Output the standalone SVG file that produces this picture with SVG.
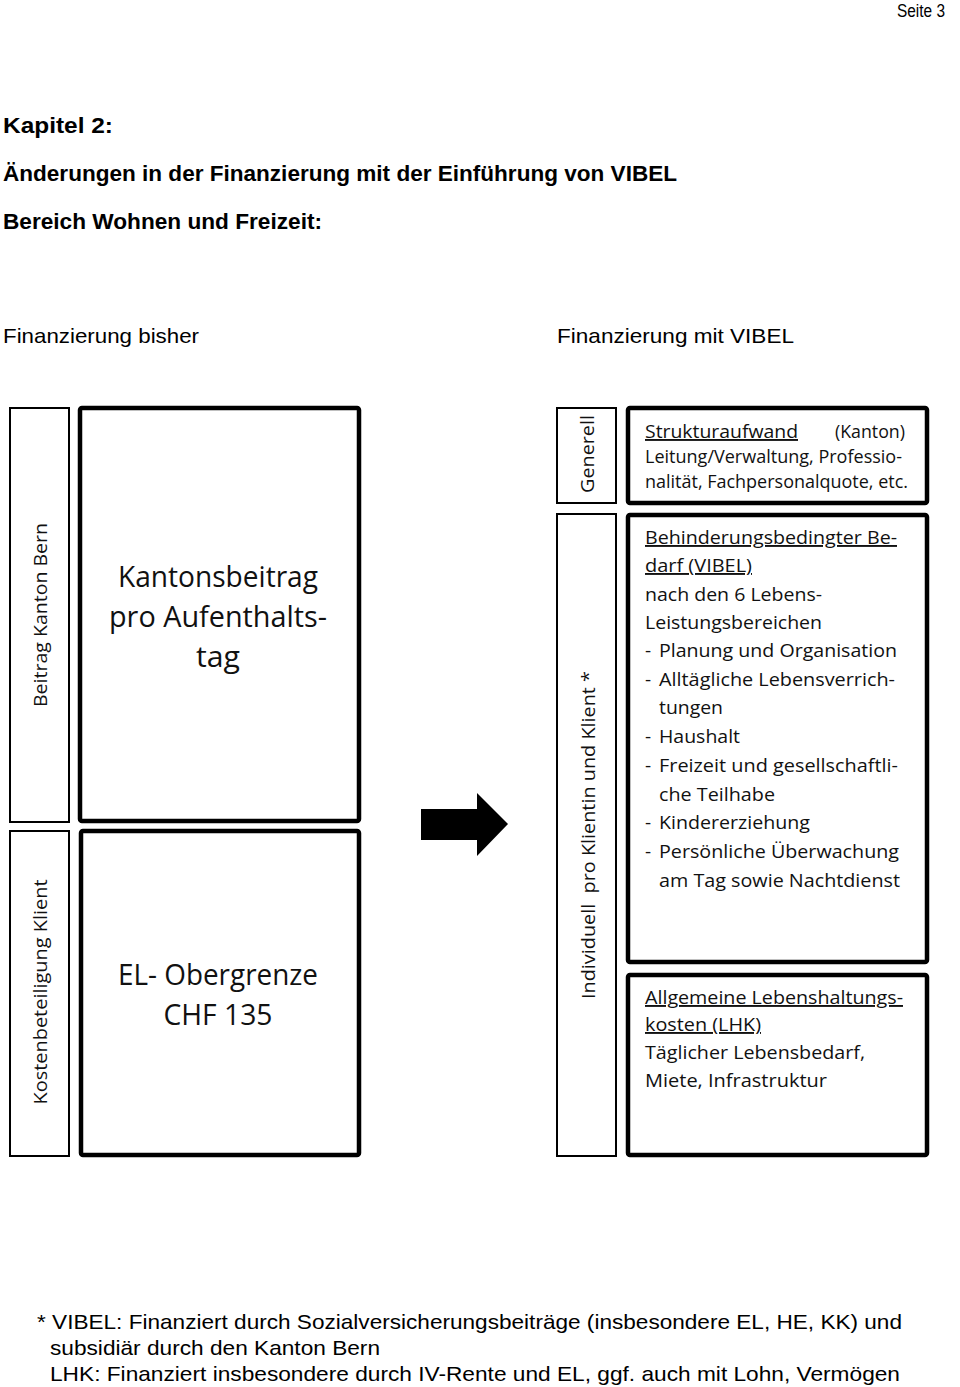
<svg xmlns="http://www.w3.org/2000/svg" width="960" height="1387" viewBox="0 0 960 1387">
<style>
.h{font-family:"Liberation Sans",Arial,sans-serif;fill:#000}
.hb{font-family:"Liberation Sans",Arial,sans-serif;font-weight:bold;font-size:22px;fill:#000}
.c{font-family:"Open Sans","Noto Sans",sans-serif;fill:#111}
.big{font-size:29px;text-anchor:middle}
.v{font-size:19px;text-anchor:middle}
.b{font-size:19px}
.u{text-decoration:underline}
.thin{fill:#fff;stroke:#000;stroke-width:2}
.thick{fill:#fff;stroke:#000;stroke-width:4.5}
</style>
<rect width="960" height="1387" fill="#fff"/>
<g id="header">
<text class="h" x="945" y="17" font-size="18" text-anchor="end" textLength="48" lengthAdjust="spacingAndGlyphs">Seite 3</text>
<text class="hb" x="3" y="133" textLength="110" lengthAdjust="spacingAndGlyphs">Kapitel 2:</text>
<text class="hb" x="3" y="181" textLength="674" lengthAdjust="spacingAndGlyphs">Änderungen in der Finanzierung mit der Einführung von VIBEL</text>
<text class="hb" x="3" y="229" textLength="319" lengthAdjust="spacingAndGlyphs">Bereich Wohnen und Freizeit:</text>
<text class="h" x="3" y="343" font-size="21" textLength="196" lengthAdjust="spacingAndGlyphs">Finanzierung bisher</text>
<text class="h" x="557" y="343" font-size="21" textLength="237" lengthAdjust="spacingAndGlyphs">Finanzierung mit VIBEL</text>
</g>
<g id="beitrag-kanton">
<rect class="thin" x="10" y="408" width="59" height="414"/>
<text class="c v" transform="translate(47,615) rotate(-90)" textLength="184" lengthAdjust="spacingAndGlyphs">Beitrag Kanton Bern</text>
</g>
<g id="kantonsbeitrag">
<rect class="thick" x="80" y="408" width="279" height="413" rx="2"/>
<text class="c big" x="218" y="587" textLength="200" lengthAdjust="spacingAndGlyphs">Kantonsbeitrag</text>
<text class="c big" x="218" y="627" textLength="218" lengthAdjust="spacingAndGlyphs">pro Aufenthalts-</text>
<text class="c big" x="218" y="667" textLength="44" lengthAdjust="spacingAndGlyphs">tag</text>
</g>
<g id="kostenbeteiligung">
<rect class="thin" x="10" y="831" width="59" height="325"/>
<text class="c v" transform="translate(47,992) rotate(-90)" textLength="225" lengthAdjust="spacingAndGlyphs">Kostenbeteiligung Klient</text>
</g>
<g id="el-obergrenze">
<rect class="thick" x="81" y="831" width="278" height="324" rx="2"/>
<text class="c big" x="218" y="985" textLength="200" lengthAdjust="spacingAndGlyphs">EL- Obergrenze</text>
<text class="c big" x="218" y="1025" textLength="109" lengthAdjust="spacingAndGlyphs">CHF 135</text>
</g>
<g id="connectors">
<polygon points="421,809 477,809 477,793 508,824 477,856 477,840 421,840" fill="#000"/>
</g>
<g id="generell">
<rect class="thin" x="557" y="408" width="59" height="95"/>
<text class="c v" transform="translate(594,454) rotate(-90)" textLength="78" lengthAdjust="spacingAndGlyphs">Generell</text>
</g>
<g id="strukturaufwand">
<rect class="thick" x="628" y="408" width="299" height="95" rx="2"/>
<text class="c b u" x="645" y="438" font-size="18" textLength="153" lengthAdjust="spacingAndGlyphs">Strukturaufwand</text>
<text class="c b" x="835" y="438" font-size="18" textLength="70" lengthAdjust="spacingAndGlyphs">(Kanton)</text>
<text class="c b" x="645" y="463" font-size="18" textLength="257" lengthAdjust="spacingAndGlyphs">Leitung/Verwaltung, Professio-</text>
<text class="c b" x="645" y="488" font-size="18" textLength="263" lengthAdjust="spacingAndGlyphs">nalität, Fachpersonalquote, etc.</text>
</g>
<g id="individuell">
<rect class="thin" x="557" y="514" width="59" height="642"/>
<text class="c v" transform="translate(595,835) rotate(-90)" textLength="328" lengthAdjust="spacingAndGlyphs" xml:space="preserve">Individuell  pro Klientin und Klient *</text>
</g>
<g id="behinderung">
<rect class="thick" x="628" y="515" width="299" height="447" rx="2"/>
<text class="c b u" x="645" y="544" textLength="252" lengthAdjust="spacingAndGlyphs">Behinderungsbedingter Be-</text>
<text class="c b u" x="645" y="572" textLength="107" lengthAdjust="spacingAndGlyphs">darf (VIBEL)</text>
<text class="c b" x="645" y="601" textLength="177" lengthAdjust="spacingAndGlyphs">nach den 6 Lebens-</text>
<text class="c b" x="645" y="629" textLength="177" lengthAdjust="spacingAndGlyphs">Leistungsbereichen</text>
<text class="c b" x="645" y="657">-</text>
<text class="c b" x="659" y="657" textLength="238" lengthAdjust="spacingAndGlyphs">Planung und Organisation</text>
<text class="c b" x="645" y="686">-</text>
<text class="c b" x="659" y="686" textLength="236" lengthAdjust="spacingAndGlyphs">Alltägliche Lebensverrich-</text>
<text class="c b" x="659" y="714" textLength="64" lengthAdjust="spacingAndGlyphs">tungen</text>
<text class="c b" x="645" y="743">-</text>
<text class="c b" x="659" y="743" textLength="81" lengthAdjust="spacingAndGlyphs">Haushalt</text>
<text class="c b" x="645" y="772">-</text>
<text class="c b" x="659" y="772" textLength="239" lengthAdjust="spacingAndGlyphs">Freizeit und gesellschaftli-</text>
<text class="c b" x="659" y="801" textLength="116" lengthAdjust="spacingAndGlyphs">che Teilhabe</text>
<text class="c b" x="645" y="829">-</text>
<text class="c b" x="659" y="829" textLength="151" lengthAdjust="spacingAndGlyphs">Kindererziehung</text>
<text class="c b" x="645" y="858">-</text>
<text class="c b" x="659" y="858" textLength="240" lengthAdjust="spacingAndGlyphs">Persönliche Überwachung</text>
<text class="c b" x="659" y="887" textLength="241" lengthAdjust="spacingAndGlyphs">am Tag sowie Nachtdienst</text>
</g>
<g id="lhk">
<rect class="thick" x="628" y="975" width="299" height="180" rx="2"/>
<text class="c b u" x="645" y="1004" textLength="258" lengthAdjust="spacingAndGlyphs">Allgemeine Lebenshaltungs-</text>
<text class="c b u" x="645" y="1031" textLength="116" lengthAdjust="spacingAndGlyphs">kosten (LHK)</text>
<text class="c b" x="645" y="1059" textLength="220" lengthAdjust="spacingAndGlyphs">Täglicher Lebensbedarf,</text>
<text class="c b" x="645" y="1087" textLength="182" lengthAdjust="spacingAndGlyphs">Miete, Infrastruktur</text>
</g>
<g id="footer">
<text class="h" x="37" y="1329" font-size="21" textLength="865" lengthAdjust="spacingAndGlyphs">* VIBEL: Finanziert durch Sozialversicherungsbeiträge (insbesondere EL, HE, KK) und</text>
<text class="h" x="50" y="1355" font-size="21" textLength="330" lengthAdjust="spacingAndGlyphs">subsidiär durch den Kanton Bern</text>
<text class="h" x="50" y="1381" font-size="21" textLength="850" lengthAdjust="spacingAndGlyphs">LHK: Finanziert insbesondere durch IV-Rente und EL, ggf. auch mit Lohn, Vermögen</text>
</g>
</svg>
